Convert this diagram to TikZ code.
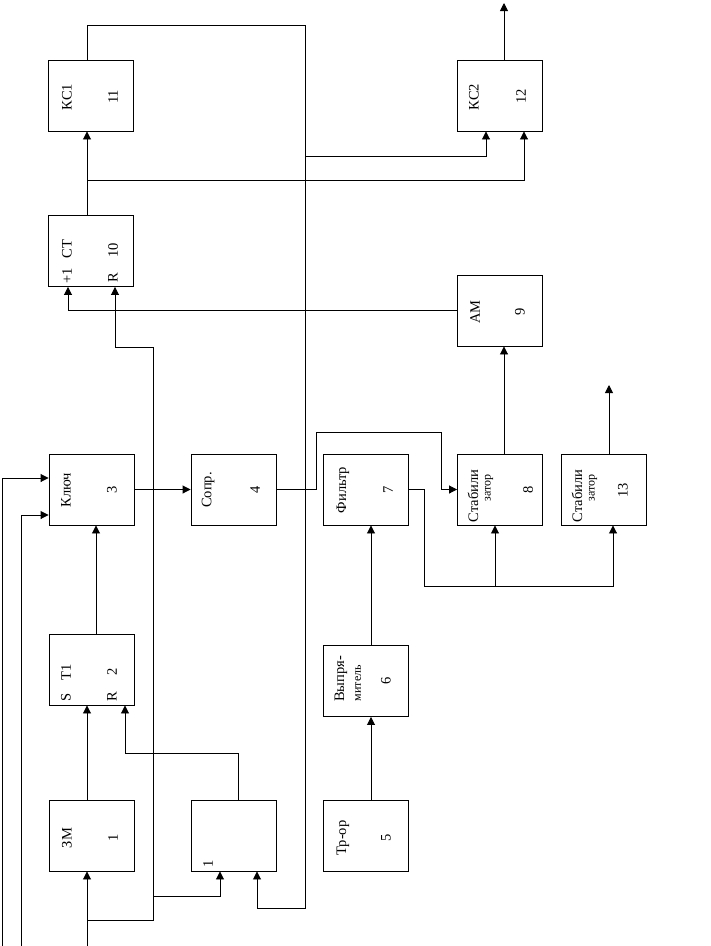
\documentclass[tikz,border=0pt]{standalone}
\usepackage{fontspec}
\setmainfont{Liberation Serif}
\usetikzlibrary{arrows.meta,calc}

\begin{document}
\begin{tikzpicture}[x=1pt, y=-1pt, line width=0.9pt,
        blok/.style={draw, rectangle, minimum width=85pt, minimum height=71pt, inner sep=0pt},
        txt/.style={rotate=90, inner sep=0pt, font=\fontsize{14.5}{14.5}\selectfont},
        txts/.style={rotate=90, inner sep=0pt, font=\fontsize{12}{12}\selectfont},
        arr/.style={-{Triangle[length=8pt, width=8pt]}}]

        \useasboundingbox (0,0) rectangle (711,946);

        % Define the blocks (top row first)
        \node[blok] (b11) at (91,95.5) {};
        \node[blok] (b12) at (499.5,95.5) {};
        \node[blok] (b10) at (91,251) {};
        \node[blok] (b9) at (500,310.5) {};
        \node[blok] (b3) at (91.5,489.5) {};
        \node[blok] (b4) at (233.5,489.5) {};
        \node[blok] (b7) at (366,489.5) {};
        \node[blok] (b8) at (500,489.5) {};
        \node[blok] (b13) at (604,489.5) {};
        \node[blok] (b2) at (91.5,669.5) {};
        \node[blok] (b6) at (366,681) {};
        \node[blok] (b1) at (91.5,835.5) {};
        \node[blok] (b0) at (233.5,835.5) {};
        \node[blok] (b5) at (366,835.5) {};

        % Texts inside the blocks
        \node[txt] (t11a) at (67,97) {КС1};
        \node[txt] (t11b) at (113,97) {11};
        \node[txt] (t12a) at (474,97) {КС2};
        \node[txt] (t12b) at (521,96) {12};
        \node[txt] (t10a) at (67,249) {СТ};
        \node[txt] (t10b) at (67,276) {+1};
        \node[txt] (t10c) at (113,250) {10};
        \node[txt] (t10d) at (113,278) {R};
        \node[txt] (t9a) at (475,312) {АМ};
        \node[txt] (t9b) at (520,312) {9};
        \node[txt] (t3a) at (66,490) {Ключ};
        \node[txt] (t3b) at (112,490) {3};
        \node[txt] (t4a) at (208,490) {Сопр.};
        \node[txt] (t4b) at (255,490) {4};
        \node[txt] (t7a) at (343,490) {Фильтр};
        \node[txt] (t7b) at (388,490) {7};
        \node[txt] (t8a) at (473,496) {Стабили};
        \node[txts] (t8b) at (489,488) {затор};
        \node[txt] (t8c) at (528,490) {8};
        \node[txt] (t13a) at (577,496) {Стабили};
        \node[txts] (t13b) at (593,488) {затор};
        \node[txt] (t13c) at (623,490) {13};
        \node[txt] (t2a) at (66,672) {Т1};
        \node[txt] (t2b) at (66,697) {S};
        \node[txt] (t2c) at (112,672) {2};
        \node[txt] (t2d) at (112,697) {R};
        \node[txt] (t6a) at (341,679) {Выпря-};
        \node[txts] (t6b) at (358,683) {митель};
        \node[txt] (t6c) at (386,681) {6};
        \node[txt] (t1a) at (67,838) {ЗМ};
        \node[txt] (t1b) at (113,838) {1};
        \node[txt] (t0a) at (208,864) {1};
        \node[txt] (t5a) at (343,838) {Тр-ор};
        \node[txt] (t5b) at (386,838) {5};

        % Free ends and branch points
        \coordinate (in1) at (87,946);
        \coordinate (in2) at (2,946);
        \coordinate (in3) at (21,946);
        \coordinate (j1) at (87,920);
        \coordinate (j2) at (153,896);
        \coordinate (j3) at (495,586);
        \coordinate (j4) at (87,180);
        \coordinate (j5) at (305,156);
        \coordinate (o12) at (504,3);
        \coordinate (o13) at (609,385);

        % Lower left part
        \draw[arr] (in1) -- ($(b1.south)+(-4.5,0)$);
        \draw[arr] (j1) -| (153,347) -| ($(b10.south)+(24,0)$);
        \draw[arr] (j2) -| ($(b0.south)+(-13.5,0)$);
        \draw[arr] ($(b1.north)+(-4.5,0)$) -- ($(b2.south)+(-4.5,0)$);
        \draw[arr] ($(b0.north)+(4.5,0)$) |- (125,753) -- ($(b2.south)+(33.5,0)$);
        \draw[arr] ($(b2.north)+(4.5,0)$) -- ($(b3.south)+(4.5,0)$);
        \draw[arr] (in2) |- ($(b3.west)+(0,-11.5)$);
        \draw[arr] (in3) |- ($(b3.west)+(0,25.5)$);
        \draw[arr] (b3.east) -- (b4.west);
        \draw[arr] (b4.east) -- (316,489.5) |- (441,432) |- (b8.west);

        % Power supply chain
        \draw[arr] ($(b5.north)+(5,0)$) -- ($(b6.south)+(5,0)$);
        \draw[arr] ($(b6.north)+(5,0)$) -- ($(b7.south)+(5,0)$);
        \draw[arr] (b7.east) -| (424,586) -| ($(b13.south)+(9,0)$);
        \draw[arr] (j3) -- ($(b8.south)+(-5,0)$);
        \draw[arr] ($(b8.north)+(4,0)$) -- ($(b9.south)+(4,0)$);
        \draw[arr] ($(b13.north)+(5,0)$) -- (o13);
        \draw[arr] (b9.west) -| ($(b10.south)+(-23,0)$);

        % Upper part
        \draw[arr] ($(b10.north)+(-4,0)$) -- ($(b11.south)+(-4,0)$);
        \draw[arr] (j4) -| ($(b12.south)+(24.5,0)$);
        \draw[arr] ($(b11.north)+(-4,0)$) |- (305,25) -- (305,908) -| ($(b0.south)+(23.5,0)$);
        \draw[arr] (j5) -| ($(b12.south)+(-13.5,0)$);
        \draw[arr] ($(b12.north)+(4.5,0)$) -- (o12);
\end{tikzpicture}
\end{document}
